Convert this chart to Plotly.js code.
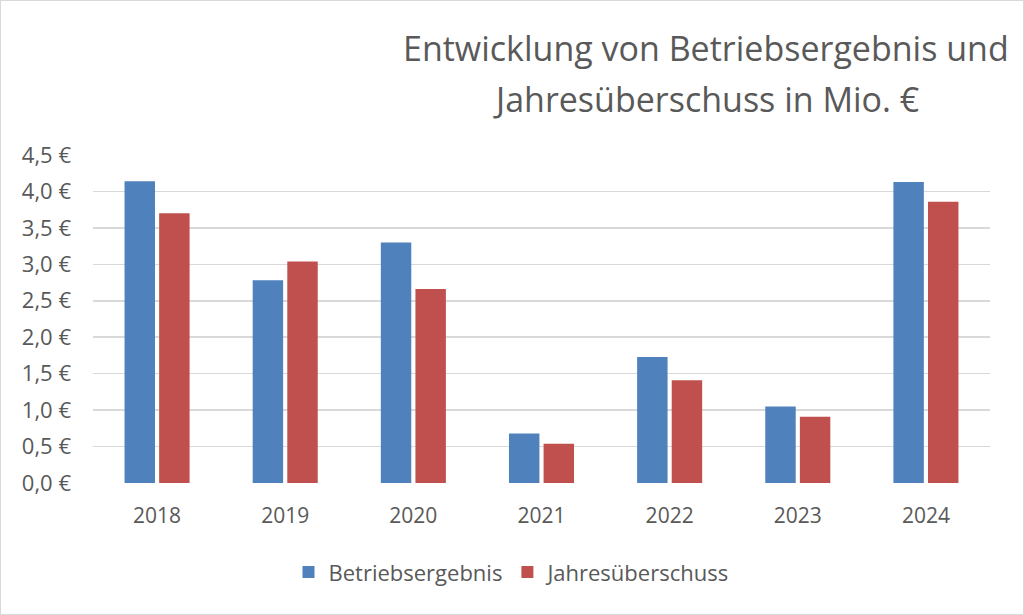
<!DOCTYPE html>
<html><head><meta charset="utf-8">
<script src="https://cdn.plot.ly/plotly-3.0.1.min.js"></script>
<style>html,body{margin:0;padding:0;background:#fff;}#chart{width:1024px;height:615px;box-sizing:border-box;border:1px solid #d9d9d9;}</style>
</head><body><div id="chart"></div>
<script>
const years = ['2018','2019','2020','2021','2022','2023','2024'];
const betriebsergebnis = [4.14, 2.78, 3.30, 0.68, 1.73, 1.05, 4.13];
const jahresueberschuss = [3.70, 3.04, 2.66, 0.54, 1.41, 0.91, 3.86];
const seriesNames = ['Betriebsergebnis', 'Jahresüberschuss'];
const yTicks = [0,0.5,1,1.5,2,2.5,3,3.5,4,4.5];
const yTickText = yTicks.map(v => v.toFixed(1).replace('.', ',') + ' €');
const titleLines = ['Entwicklung von Betriebsergebnis und', 'Jahresüberschuss in Mio. €'];

const font = 'Open Sans, sans-serif';
const traces = [
  {type:'bar', name:seriesNames[0], x:years, y:betriebsergebnis, marker:{color:'#4f81bd'}},
  {type:'bar', name:seriesNames[1], x:years, y:jahresueberschuss, marker:{color:'#c0504d'}}
];
const layout = {
  width:1022, height:613,
  margin:{l:92, r:33, t:154, b:131},
  paper_bgcolor:'#fff', plot_bgcolor:'#fff',
  barmode:'group', bargap:0.46, bargroupgap:0.12,
  annotations: titleLines.map((t, i) => ({text:t, showarrow:false, xref:'paper', yref:'paper', x:0.683, y:[1.326, 1.172][i], xanchor:'center', yanchor:'middle', font:{family:font, size:34, color:'#595959'}})),
  xaxis:{type:'category', showgrid:false, showline:false, zeroline:false, ticks:'', ticklabelstandoff:18, tickfont:{family:font, size:21, color:'#595959'}},
  yaxis:{range:[0,4.5], tickvals:yTicks, ticktext:yTickText, showgrid:true, gridcolor:'#d9d9d9', gridwidth:1.5, zeroline:false, showline:false, ticks:'', ticklabelstandoff:21, tickfont:{family:font, size:22, color:'#595959'}},
  showlegend:true,
  legend:{orientation:'h', x:0.5, xref:'container', xanchor:'center', y:0.068, yref:'container', yanchor:'middle', font:{family:font, size:22, color:'#595959'}, itemwidth:30, tracegroupgap:20}
};
Plotly.newPlot('chart', traces, layout, {displayModeBar:false, staticPlot:true});
</script></body></html>
